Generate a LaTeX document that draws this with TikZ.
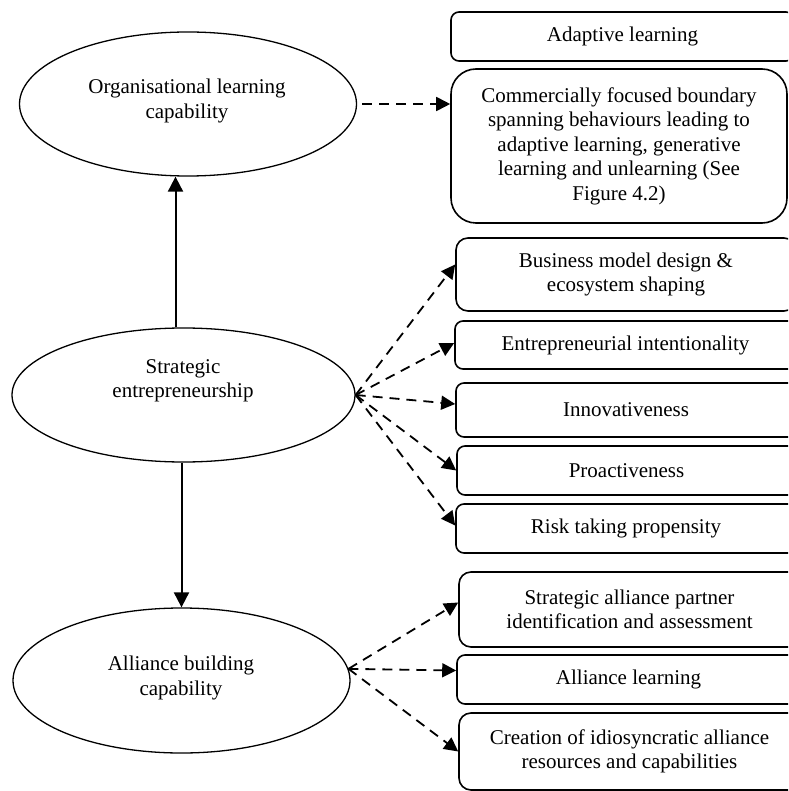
\documentclass[tikz,border=0pt]{standalone}
\usepackage{fontspec}
\setmainfont{Liberation Serif}
\usetikzlibrary{shapes.geometric,arrows.meta,calc}
\begin{document}
\begin{tikzpicture}[x=1pt,y=-1pt,
  ell/.style={draw, line width=1.3pt, ellipse, inner sep=0pt},
  etxt/.style={align=center, inner sep=0pt, font=\fontsize{21}{24.5}\selectfont},
  box/.style={draw, line width=1.6pt, align=center, inner sep=0pt, font=\fontsize{21}{24.5}\selectfont},
  darr/.style={line width=1.8pt, dash pattern=on 10pt off 7pt, -{Triangle[length=14pt,width=14pt]}},
  sarr/.style={line width=2pt, -{Triangle[length=15pt,width=15pt]}}
]
\useasboundingbox (0,0) rectangle (788,791);
\clip (0,0) rectangle (788,791);

% ellipses
\node[ell, minimum width=337pt, minimum height=144pt] (org) at (188,104) {};
\node[etxt] (orgt) at (187,101) {Organisational learning\\capability};
\node[ell, minimum width=343pt, minimum height=134pt] (se) at (183.5,395) {};
\node[etxt] (set) at (183,381) {Strategic\\entrepreneurship};
\node[ell, minimum width=337pt, minimum height=145pt] (ab) at (181.5,680.5) {};
\node[etxt] (abt) at (181,678) {Alliance building\\capability};

% boxes
\node[box, rounded corners=8pt, minimum width=343pt, minimum height=49pt] (adapt) at (622.5,36.5) {Adaptive learning};
\node[box, rounded corners=25pt, minimum width=336pt, minimum height=154pt] (comm) at (619,146) {Commercially focused boundary\\spanning behaviours leading to\\adaptive learning, generative\\learning and unlearning (See\\Figure 4.2)};
\node[box, rounded corners=12pt, minimum width=340pt, minimum height=73pt] (bm) at (626,274.5) {Business model design \&\\ecosystem shaping};
\node[box, rounded corners=8pt, minimum width=341pt, minimum height=48pt] (ei) at (625.5,345) {Entrepreneurial intentionality};
\node[box, rounded corners=8pt, minimum width=340pt, minimum height=54pt] (inn) at (626,410) {Innovativeness};
\node[box, rounded corners=8pt, minimum width=339pt, minimum height=49pt] (pro) at (626.5,470.5) {Proactiveness};
\node[box, rounded corners=8pt, minimum width=340pt, minimum height=49pt] (risk) at (626,528.5) {Risk taking propensity};
\node[box, rounded corners=12pt, minimum width=341pt, minimum height=75pt] (sap) at (629.5,609.5) {Strategic alliance partner\\identification and assessment};
\node[box, rounded corners=8pt, minimum width=343pt, minimum height=49pt] (alearn) at (628.5,679.5) {Alliance learning};
\node[box, rounded corners=12pt, minimum width=341pt, minimum height=77pt] (creat) at (629.5,751.5) {Creation of idiosyncratic alliance\\resources and capabilities};

% connectors
\draw[darr] ([xshift=5pt]org.east) -- (comm.west |- org.east);

\draw[darr] (se.east) -- ([yshift=10pt]bm.west);
\draw[darr] (se.east) -- ([yshift=2pt]ei.west);
\draw[darr] (se.east) -- ([yshift=6pt]inn.west);
\draw[darr] (se.east) -- (pro.west);
\draw[darr] (se.east) -- ([yshift=3pt]risk.west);

\draw[darr] (ab.4) -- ([yshift=7pt]sap.west);
\draw[darr] (ab.4) -- ([yshift=9pt]alearn.west);
\draw[darr] (ab.4) -- (creat.west);

\draw[sarr] ([xshift=-8pt]se.north) -- ([xshift=-8pt]se.north |- org.south);
\draw[sarr] (ab.north |- se.south) -- (ab.north);
\end{tikzpicture}
\end{document}
